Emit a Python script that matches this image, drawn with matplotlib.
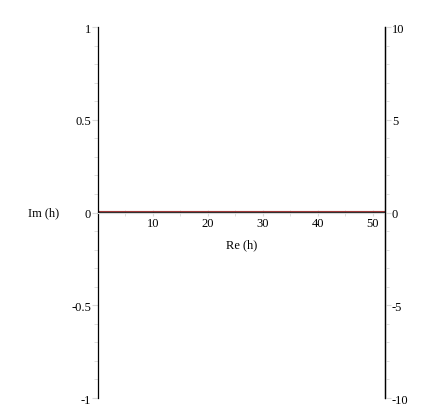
import matplotlib
matplotlib.use("Agg")
import matplotlib.pyplot as plt
from matplotlib.transforms import offset_copy

plt.rcParams["font.family"] = ["Liberation Serif", "DejaVu Serif"]

re_h = [0.0, 52.2]
im_h = [0.0, 0.0]
x_ticks = [10, 20, 30, 40, 50]
left_ticks = [-1, -0.5, 0, 0.5, 1]
left_labels = ["-1", "-0.5", "0", "0.5", "1"]
right_ticks = [-10, -5, 0, 5, 10]
right_labels = ["-10", "-5", "0", "5", "10"]

fig = plt.figure(figsize=(4.43, 4.14), dpi=100)
ax = fig.add_axes([0.221, 0.0362, 0.648, 0.896])
ax.set_xlim(0, 52.2)
ax.set_ylim(-1, 1)

# curves: red one sits a pixel above the black one
ax.plot(re_h, im_h, color="#a03838", lw=0.8,
        transform=offset_copy(ax.transData, fig=fig, x=0, y=1.2, units="dots"))
ax.plot(re_h, im_h, color="black", lw=1.2,
        transform=offset_copy(ax.transData, fig=fig, x=0, y=-0.3, units="dots"))

tick_col = "#d8d8d8"
ax.spines["top"].set_visible(False)
ax.spines["bottom"].set_position(("data", 0))
ax.spines["bottom"].set_color(tick_col)
ax.spines["left"].set_linewidth(0.9)
ax.spines["right"].set_linewidth(0.9)

ax.set_xticks(x_ticks)
ax.set_xticks(range(5, 55, 5), minor=True)
ax.set_yticks(left_ticks)
ax.set_yticklabels(left_labels)
ax.set_yticks([i / 10 for i in range(-10, 11)], minor=True)
ax.tick_params(axis="x", which="both", direction="inout", length=5, color=tick_col, labelsize=9, pad=1)
ax.tick_params(axis="y", which="major", direction="out", length=4, color=tick_col, labelsize=9, pad=1)
ax.tick_params(axis="y", which="minor", direction="out", length=3, color=tick_col)

ax2 = ax.twinx()
ax2.set_ylim(-10, 10)
for s in ["top", "bottom", "left"]:
    ax2.spines[s].set_visible(False)
ax2.spines["right"].set_linewidth(0.9)
ax2.set_yticks(right_ticks)
ax2.set_yticklabels(right_labels)
ax2.set_yticks(range(-10, 11, 1), minor=True)
ax2.tick_params(axis="y", which="major", direction="out", length=4, color=tick_col, labelsize=9, pad=1)
ax2.tick_params(axis="y", which="minor", direction="out", length=3, color=tick_col)

ax.text(26.1, -0.17, "Re (h)", ha="center", va="center", fontsize=9)
ax.text(-0.19, 0, "Im (h)", transform=ax.get_yaxis_transform(), ha="center", va="center", fontsize=9)

fig.savefig("out.png", dpi=100)
